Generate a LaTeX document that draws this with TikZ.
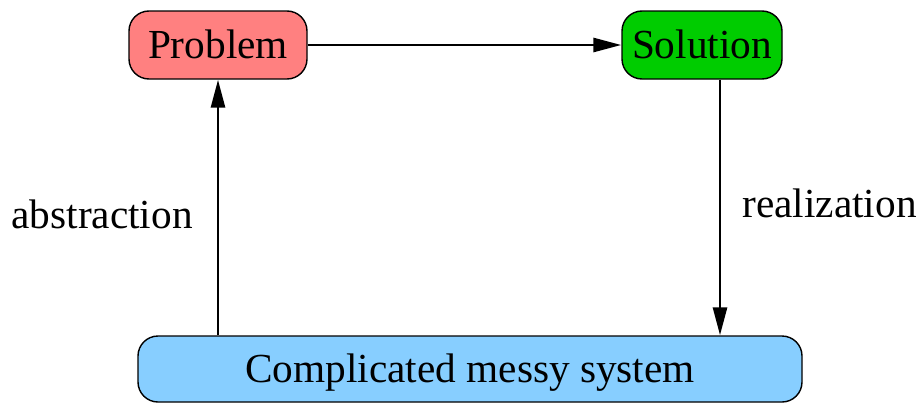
\documentclass[tikz,border=0pt]{standalone}
\usepackage{fontspec}
\setmainfont{Liberation Serif}
\usepackage{xcolor}
\usetikzlibrary{arrows.meta}
\definecolor{probred}{RGB}{255,128,128}
\definecolor{solgreen}{RGB}{0,204,0}
\definecolor{sysblue}{RGB}{135,206,255}

\begin{document}
\begin{tikzpicture}[
	box/.style={draw, line width=0.8pt, rounded corners=0.4cm, inner sep=0pt, text height=15.5pt, text depth=0pt, font=\fontsize{23.5}{28}\selectfont},
	arr/.style={line width=1.6pt, -{Triangle[length=0.56cm, width=0.28cm]}},
	lbl/.style={inner sep=0pt, font=\fontsize{23.5}{28}\selectfont}]
	\useasboundingbox (0,0) rectangle (18.4,8.1);
	% Draw the three boxes
	\node[box, fill=probred, minimum width=3.56cm, minimum height=1.36cm] (prob) at (4.36,7.2) {Problem};
	\node[box, fill=solgreen, minimum width=3.2cm, minimum height=1.36cm] (sol) at (14.04,7.2) {Solution};
	\node[box, fill=sysblue, minimum width=13.28cm, minimum height=1.32cm] (sys) at (9.4,0.72) {Complicated messy system};
	% Anchor points of the vertical arrows
	\coordinate (realtop) at ([xshift=0.36cm]sol.south);
	% Draw the arrows
	\draw[arr] (prob.east) -- (sol.west);
	\draw[arr] (sys.north -| prob.south) -- (prob.south);
	\draw[arr] (realtop) -- (realtop |- sys.north);
	% Label the arrows
	\node[lbl, anchor=base east] (abstr) at (3.86,3.54) {abstraction};
	\node[lbl, anchor=base west] (realiz) at (14.84,3.76) {realization};
\end{tikzpicture}
\end{document}
